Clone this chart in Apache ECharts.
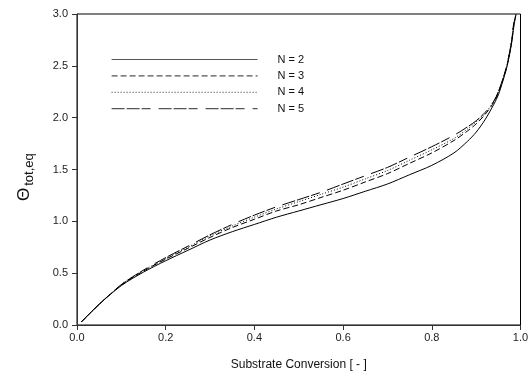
<!DOCTYPE html>
<html>
<head>
<meta charset="utf-8">
<script src="https://cdn.jsdelivr.net/npm/echarts@6/dist/echarts.min.js"></script>
<style>
html,body{margin:0;padding:0;background:#fff;}
#c{width:532px;height:379px;}
</style>
</head>
<body>
<div id="c"></div>
<script>
var conversion = [0.01,0.05,0.1,0.15,0.2,0.25,0.3,0.35,0.4,0.45,0.5,0.55,0.6,0.65,0.7,0.75,0.8,0.85,0.88,0.9,0.92,0.94,0.95,0.96,0.97,0.98,0.985,0.99];
var thetaN2 = [0.03,0.2,0.38,0.51,0.62,0.72,0.82,0.9,0.97,1.04,1.1,1.16,1.22,1.29,1.36,1.45,1.54,1.66,1.77,1.86,1.98,2.13,2.22,2.35,2.5,2.72,2.88,3.0];
var thetaN3 = [0.03,0.2,0.385,0.52,0.635,0.74,0.845,0.94,1.02,1.1,1.16,1.23,1.3,1.38,1.46,1.56,1.66,1.78,1.87,1.94,2.03,2.15,2.24,2.36,2.51,2.73,2.9,3.0];
var thetaN4 = [0.03,0.2,0.39,0.525,0.64,0.75,0.86,0.955,1.04,1.12,1.19,1.26,1.33,1.41,1.49,1.59,1.69,1.8,1.89,1.96,2.04,2.16,2.25,2.37,2.52,2.74,2.91,3.0];
var thetaN5 = [0.03,0.2,0.39,0.53,0.65,0.76,0.87,0.97,1.06,1.14,1.21,1.28,1.36,1.44,1.52,1.62,1.72,1.83,1.91,1.97,2.05,2.16,2.25,2.37,2.52,2.74,2.92,3.0];
var seriesNames = ['N = 2','N = 3','N = 4','N = 5'];
var xTicks = [0,0.2,0.4,0.6,0.8,1.0];
var yTicks = [0,0.5,1.0,1.5,2.0,2.5,3.0];

function pairs(ys){ return conversion.map(function(x,i){ return [x, ys[i]]; }); }
var dashes = ['solid',[6,3],[1,2],[13,2,13,2,9,8]];
var all = [thetaN2,thetaN3,thetaN4,thetaN5];

var chart = echarts.init(document.getElementById('c'), null, {renderer:'canvas'});
var font = 'Arial, "Liberation Sans", sans-serif';
chart.setOption({
  animation:false,
  backgroundColor:'#fff',
  grid:{left:77,right:11.5,top:14,bottom:54,show:true,borderColor:'#000',borderWidth:1},
  legend:{
    orient:'vertical', left:111, top:54, padding:0,
    itemWidth:146, itemHeight:10, itemGap:5.4,
    itemStyle:{opacity:0},
    lineStyle:{width:1.2, color:'#555'},
    textStyle:{fontFamily:font,fontSize:11,color:'#111',padding:[0,0,0,15]},
    data:seriesNames
  },
  xAxis:{
    type:'value', min:xTicks[0], max:xTicks[xTicks.length-1], interval:0.2,
    axisLine:{lineStyle:{color:'#333',width:1}},
    axisTick:{show:true,length:5,lineStyle:{color:'#333'}},
    axisLabel:{margin:7,fontFamily:font,fontSize:11,color:'#222',formatter:function(v){return v.toFixed(1);}},
    splitLine:{show:false},
    name:'Substrate Conversion [ - ]', nameLocation:'middle', nameGap:34,
    nameTextStyle:{fontFamily:font,fontSize:12,color:'#111'}
  },
  yAxis:{
    type:'value', min:yTicks[0], max:yTicks[yTicks.length-1], interval:0.5,
    axisLine:{lineStyle:{color:'#333',width:1}},
    axisTick:{show:true,length:5,lineStyle:{color:'#333'}},
    axisLabel:{margin:9,fontFamily:font,fontSize:11,color:'#222',formatter:function(v){return v.toFixed(1);}},
    splitLine:{show:false}
  },
  graphic:[{
    type:'text', x:13, y:201, rotation:Math.PI/2,
    style:{
      text:'{a|Θ}{b|tot,eq}',
      rich:{
        a:{fontFamily:font,fontSize:17,fill:'#111'},
        b:{fontFamily:font,fontSize:13,fill:'#111',padding:[10,0,0,2]}
      },
      fill:'#111'
    }
  }],
  series: all.map(function(ys,i){
    return {
      name:seriesNames[i], type:'line', data:pairs(ys), smooth:0.3,
      symbol:'none', showSymbol:false,
      lineStyle:{color:'#000',width:1,type:dashes[i]},
      itemStyle:{color:'#000'}
    };
  })
});
</script>
</body>
</html>
